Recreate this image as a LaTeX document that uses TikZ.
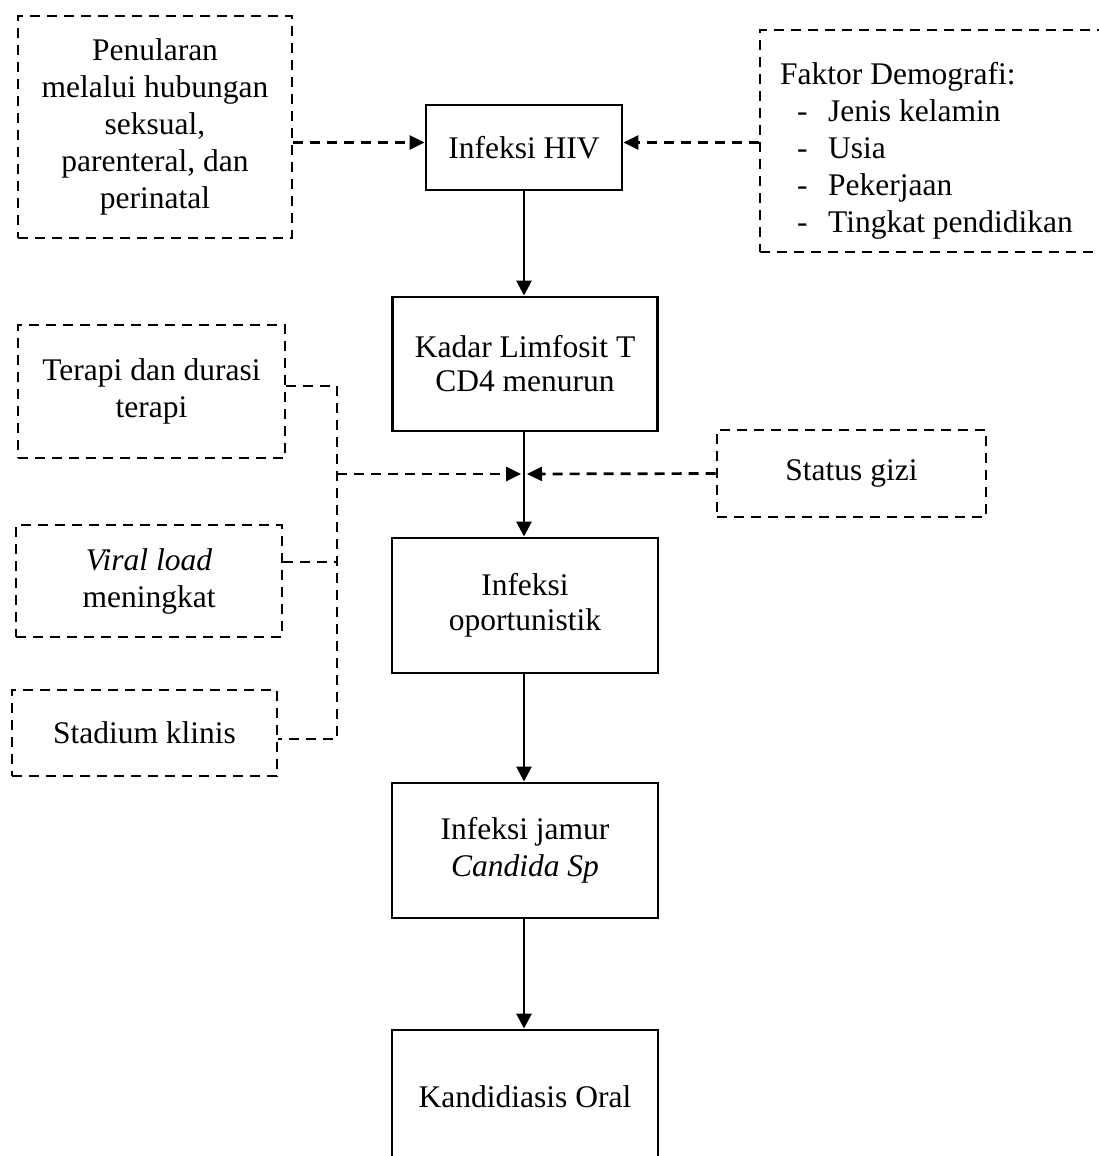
\documentclass[tikz,border=0pt]{standalone}
\usepackage{fontspec}
\setmainfont{Liberation Serif}
\usetikzlibrary{arrows.meta}
\begin{document}
\begin{tikzpicture}[x=1pt,y=-1pt,
  every node/.style={font=\fontsize{31.5}{37}\selectfont, inner sep=0pt},
  solidbox/.style={draw, line width=2.9pt, rectangle, align=center},
  dbox/.style={draw, line width=2.7pt, dash pattern=on 10pt off 7pt, rectangle, align=center},
  arr/.style={line width=2.8pt, -{Triangle[length=15pt,width=15pt]}},
  darr/.style={line width=2.7pt, dash pattern=on 10pt off 7pt, -{Triangle[length=15pt,width=14pt]}},
  dline/.style={line width=2.7pt, dash pattern=on 10pt off 7pt}]
\useasboundingbox (0,0) rectangle (1099,1156);
\clip (0,0) rectangle (1099,1156);
% top row
\node[dbox, minimum width=274, minimum height=222] (pen) at (155,127)
  {Penularan\\melalui hubungan\\seksual,\\parenteral, dan\\perinatal};
\node[solidbox, minimum width=196, minimum height=85] (hiv) at (524,147.5) {Infeksi HIV};
\node[dbox, minimum width=360, minimum height=222] (fak) at (940,141) {};
\node[anchor=north west, align=left] (faktxt) at (780,62)
  {Faktor Demografi:\\
   \hspace*{17pt}\makebox[31pt][l]{-}Jenis kelamin\\
   \hspace*{17pt}\makebox[31pt][l]{-}Usia\\
   \hspace*{17pt}\makebox[31pt][l]{-}Pekerjaan\\
   \hspace*{17pt}\makebox[31pt][l]{-}Tingkat pendidikan};
% main column
\node[solidbox, minimum width=265, minimum height=134, font=\fontsize{31.5}{34}\selectfont] (kadar) at (525,364)
  {Kadar Limfosit T\\CD4 menurun};
\node[solidbox, minimum width=266, minimum height=135, font=\fontsize{31.5}{35}\selectfont] (oport) at (525,605.5)
  {Infeksi\\oportunistik};
\node[solidbox, minimum width=266, minimum height=135] (jamur) at (525,850.5)
  {Infeksi jamur\\\textit{Candida Sp}};
\node[solidbox, minimum width=266, minimum height=134] (kand) at (525,1097)
  {Kandidiasis Oral};
% side factors
\node[dbox, minimum width=269, minimum height=87] (status) at (851.5,473.5) {Status gizi};
\node[dbox, minimum width=267, minimum height=133] (terapi) at (151.5,391.5)
  {Terapi dan durasi\\terapi};
\node[dbox, minimum width=266, minimum height=112] (viral) at (149,581)
  {\textit{Viral load}\\meningkat};
\node[dbox, minimum width=265, minimum height=86] (stad) at (144.5,733) {Stadium klinis};
% coordinates
\coordinate (ht) at (524,142.5);
\coordinate (vt) at (337,386);
\coordinate (vv) at (337,562);
\coordinate (vm) at (337,474);
\coordinate (vb) at (337,739);
\coordinate (mL) at (521,474);
\coordinate (mR) at (527,474);
% connectors
\draw[darr] (pen.east |- ht) -- (hiv.west |- ht);
\draw[darr] (fak.west |- ht) -- (hiv.east |- ht);
\draw[arr] (hiv.south) -- (hiv.south |- kadar.north);
\draw[arr] (kadar.south -| hiv.south) -- (oport.north -| hiv.south);
\draw[arr] (oport.south -| hiv.south) -- (jamur.north -| hiv.south);
\draw[arr] (jamur.south -| hiv.south) -- (kand.north -| hiv.south);
\draw[dline] (terapi.east |- vt) -- (vt) -- (vb) -- (stad.east |- vb);
\draw[dline] (viral.east |- vv) -- (vv);
\draw[darr] (vm) -- (mL);
\draw[darr] (status.west) -- (mR);
\end{tikzpicture}
\end{document}
